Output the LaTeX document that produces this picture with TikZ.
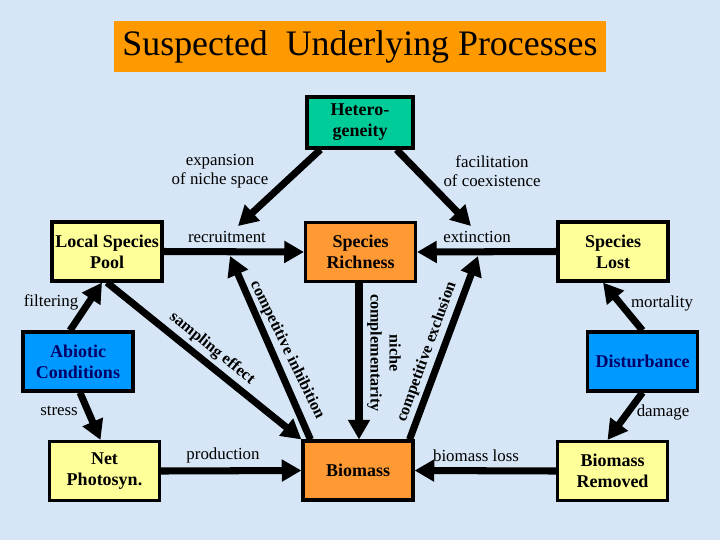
\documentclass[tikz,border=0pt]{standalone}
\usepackage{fontspec}
\setmainfont{Liberation Serif}
\usetikzlibrary{arrows.meta,calc}
\definecolor{bgblue}{RGB}{214,230,246}
\definecolor{titleor}{RGB}{255,153,0}
\definecolor{boxor}{RGB}{255,153,51}
\definecolor{boxyel}{RGB}{255,255,153}
\definecolor{boxteal}{RGB}{0,204,153}
\definecolor{boxblue}{RGB}{0,153,255}
\definecolor{navytext}{RGB}{0,0,102}
\begin{document}
\begin{tikzpicture}[x=0.025cm,y=-0.025cm,
 box/.style={draw=black,line width=2.2pt,minimum width=2.75cm,minimum height=1.475cm,align=center,font=\bfseries\fontsize{12.8}{15}\selectfont,inner sep=1pt},
 ybox/.style={box,fill=boxyel},
 obox/.style={box,fill=boxor},
 bbox/.style={box,fill=boxblue,text=navytext},
 arr/.style={line width=5pt,-{Triangle[length=14pt,width=15pt]}},
 lab/.style={font=\fontsize{12}{13.5}\selectfont,align=center,inner sep=0pt},
 rlab/.style={font=\bfseries\fontsize{11.5}{13.5}\selectfont,align=center,inner sep=0pt},
]
\fill[bgblue] (0,0) rectangle (720,540);
\useasboundingbox (0,0) rectangle (720,540);

% title
\node[fill=titleor,minimum width=12.3cm,minimum height=1.275cm,inner sep=0pt,font=\fontsize{25.5}{30}\selectfont] (title) at (360,46.5) {Suspected\ \ Underlying Processes};

% boxes
\node[box,fill=boxteal,minimum width=2.65cm,minimum height=1.275cm] (het) at (360,122.5) {Hetero-\\geneity};
\node[ybox] (lsp) at (107,251.5) {Local Species\\Pool};
\node[obox] (sr) at (360.5,252) {Species\\Richness};
\node[ybox] (sl) at (613,251.5) {Species\\Lost};
\node[bbox] (abio) at (78,361.5) {Abiotic\\Conditions};
\node[bbox] (dist) at (642.5,361.5) {Disturbance};
\node[ybox] (np) at (104.5,471) {Net\\Photosyn.};
\node[obox] (bio) at (358,470.5) {Biomass};
\node[ybox] (rem) at (612.5,471) {Biomass\\Removed};

% free ends
\coordinate (expend) at (238,226);
\coordinate (facend) at (471,226);
\coordinate (inhend) at (230,256);
\coordinate (excend) at (478,256);

% arrows
\draw[arr] (lsp.east) -- (sr.west);
\draw[arr] (sl.west) -- (sr.east);
\draw[arr] ($(het.south west)+(15,0)$) -- (expend);
\draw[arr] ($(het.south east)+(-18,0)$) -- (facend);
\draw[arr] ($(abio.north)+(-8,0)$) -- ($(lsp.south)+(-5,0)$);
\draw[arr] ($(abio.south)+(2,0)$) -- ($(np.north)+(-4,0)$);
\draw[arr] (lsp.south) -- (bio.north west);
\draw[arr] ($(bio.north west)+(9,0)$) -- (inhend);
\draw[arr] ($(sr.south)+(-1.5,0)$) -- ($(bio.north)+(1,0)$);
\draw[arr] ($(bio.north east)+(-5,0)$) -- (excend);
\draw[arr] (dist.north) -- ($(sl.south)+(-10,0)$);
\draw[arr] (dist.south) -- ($(rem.north)+(-5,0)$);
\draw[arr] (np.east) -- (bio.west);
\draw[arr] (rem.west) -- (bio.east);

% labels
\node[lab] (lexp) at (220,171) {expansion\\of niche space};
\node[lab] (lfac) at (492,171) {facilitation\\of coexistence};
\node[lab] (lrec) at (227,237) {recruitment};
\node[lab] (lext) at (477,237) {extinction};
\node[lab] (lfil) at (51,302) {filtering};
\node[lab] (lstr) at (59,411) {stress};
\node[lab] (lmor) at (662,303) {mortality};
\node[lab] (ldam) at (663,412) {damage};
\node[lab] (lpro) at (223,455) {production};
\node[lab] (lbml) at (476,456) {biomass loss};
\node[rlab,rotate=-39] (lsam) at (212,348.5) {sampling effect};
\node[rlab,rotate=-64] (linh) at (287,350) {competitive inhibition};
\node[rlab,rotate=-90] (lnic) at (384,353) {niche\\complementarity};
\node[rlab,rotate=70] (lexc) at (427,352) {competitive exclusion};
\end{tikzpicture}
\end{document}
